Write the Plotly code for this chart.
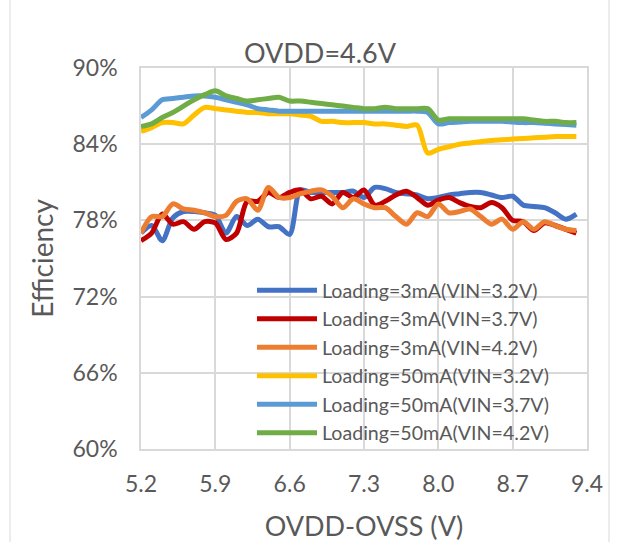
import plotly.graph_objects as go

# OVDD-OVSS sweep (V), 0.1 V steps
ovdd_ovss = [round(5.2 + 0.1 * i, 1) for i in range(42)]

# Efficiency (%) per loading / input-voltage condition
eff_3ma_32 = [77.0, 77.6, 76.4, 78.2, 78.7, 78.7, 78.6, 78.4, 77.0, 78.3,
              77.6, 78.1, 77.5, 77.5, 76.9, 80.4, 80.2, 80.2, 80.2, 80.2,
              80.3, 79.8, 80.6, 80.5, 80.2, 80.1, 80.0, 79.7, 79.8, 80.0,
              80.1, 80.2, 80.2, 80.0, 79.8, 79.9, 79.2, 79.1, 79.0, 78.6,
              78.1, 78.5]
eff_3ma_37 = [76.4, 77.0, 78.5, 77.7, 77.9, 77.3, 77.9, 77.8, 76.5, 77.0,
              79.5, 79.5, 80.2, 79.8, 80.2, 80.4, 79.7, 79.9, 79.3, 80.2,
              79.8, 80.4, 79.2, 79.5, 80.0, 80.3, 79.8, 79.2, 79.6, 79.8,
              79.4, 79.1, 79.0, 79.4, 79.0, 78.0, 77.9, 77.2, 77.8, 77.6,
              77.3, 77.0]
eff_3ma_42 = [77.0, 78.3, 78.3, 79.3, 78.9, 78.8, 78.6, 78.3, 78.4, 79.5,
              79.7, 78.8, 80.6, 79.8, 79.8, 80.1, 80.3, 80.4, 79.9, 79.0,
              79.7, 79.3, 79.0, 79.0, 78.3, 77.7, 78.6, 78.3, 79.3, 78.6,
              78.7, 78.9, 78.3, 77.7, 78.1, 77.3, 77.9, 77.3, 77.9, 77.6,
              77.3, 77.2]
eff_50ma_32 = [85.0, 85.3, 85.7, 85.7, 85.6, 86.3, 86.9, 86.8, 86.7, 86.6,
               86.5, 86.5, 86.4, 86.4, 86.4, 86.3, 86.2, 85.8, 85.8, 85.7,
               85.7, 85.7, 85.6, 85.6, 85.5, 85.4, 85.5, 83.3, 83.6, 83.8,
               84.0, 84.1, 84.2, 84.3, 84.35, 84.4, 84.45, 84.5, 84.55, 84.6,
               84.6, 84.6]
eff_50ma_37 = [86.1, 86.7, 87.5, 87.6, 87.7, 87.8, 87.8, 87.7, 87.5, 87.3,
               87.1, 86.8, 86.7, 86.6, 86.6, 86.6, 86.6, 86.6, 86.6, 86.6,
               86.6, 86.6, 86.6, 86.6, 86.6, 86.6, 86.6, 86.5, 85.6, 85.7,
               85.75, 85.8, 85.8, 85.8, 85.8, 85.75, 85.7, 85.7, 85.65, 85.6,
               85.55, 85.5]
eff_50ma_42 = [85.4, 85.6, 86.1, 86.5, 87.0, 87.5, 87.9, 88.2, 87.8, 87.6,
               87.4, 87.5, 87.6, 87.7, 87.4, 87.4, 87.3, 87.2, 87.1, 87.0,
               86.9, 86.8, 86.8, 86.9, 86.8, 86.8, 86.8, 86.8, 85.9, 86.0,
               86.0, 86.0, 86.0, 86.0, 86.0, 86.0, 86.0, 85.9, 85.8, 85.8,
               85.7, 85.7]

series_names = [
    "Loading=3mA(VIN=3.2V)",
    "Loading=3mA(VIN=3.7V)",
    "Loading=3mA(VIN=4.2V)",
    "Loading=50mA(VIN=3.2V)",
    "Loading=50mA(VIN=3.7V)",
    "Loading=50mA(VIN=4.2V)",
]
series_values = [eff_3ma_32, eff_3ma_37, eff_3ma_42,
                 eff_50ma_32, eff_50ma_37, eff_50ma_42]
series_colors = ["#4472C4", "#C00000", "#ED7D31",
                 "#FFC000", "#5B9BD5", "#70AD47"]

y_ticks = [60, 66, 72, 78, 84, 90]
y_tick_labels = [f"{v}%" for v in y_ticks]
x_ticks = [5.2, 5.9, 6.6, 7.3, 8.0, 8.7, 9.4]
x_tick_labels = [f"{v:.1f}" for v in x_ticks]

FONT = "Lato"
TEXT = "#595959"
GRID = "#d9d9d9"

fig = go.Figure()
for name, vals, col in zip(series_names, series_values, series_colors):
    fig.add_trace(go.Scatter(
        x=ovdd_ovss, y=vals, name=name, mode="lines",
        line=dict(color=col, width=5, shape="spline", smoothing=0.8),
    ))

L, R, T, B = 141, 35, 68, 93
W, H = 622, 542
pw, ph = W - L - R, H - T - B

def px_x(px):
    return (px - L) / pw

def px_y(py):
    return (H - B - py) / ph

# chart-area frame lines at the left and right edges
for fx in (10, 609):
    fig.add_shape(type="line", xref="paper", yref="paper",
                  x0=px_x(fx), x1=px_x(fx), y0=px_y(542), y1=px_y(0),
                  line=dict(color=GRID, width=1))

fig.update_layout(
    width=W, height=H,
    margin=dict(l=L, r=R, t=T, b=B, autoexpand=False),
    paper_bgcolor="white", plot_bgcolor="white",
    font=dict(family=FONT, color=TEXT),
    title=dict(text="OVDD=4.6V", font=dict(size=27, color=TEXT, family=FONT),
               xref="paper", x=px_x(320), xanchor="center",
               yref="container", y=1 - 54 / H, yanchor="middle"),
    showlegend=True,
    legend=dict(x=px_x(252), xanchor="left", y=px_y(271), yanchor="top",
                bgcolor="rgba(0,0,0,0)", font=dict(size=19.6, color=TEXT, family=FONT),
                itemwidth=60, traceorder="normal"),
    xaxis=dict(range=[5.2, 9.4], tickvals=x_ticks, ticktext=x_tick_labels,
               showgrid=True, gridcolor=GRID, gridwidth=1.5,
               showline=True, linecolor=GRID, linewidth=1.5, mirror=True,
               zeroline=False, ticks="", ticklabelstandoff=14, automargin=False,
               tickfont=dict(size=23, color=TEXT),
               title=dict(text="OVDD-OVSS (V)", font=dict(size=27, color=TEXT),
                          standoff=23)),
    yaxis=dict(range=[60, 90], tickvals=y_ticks, ticktext=y_tick_labels,
               showgrid=True, gridcolor=GRID, gridwidth=1.5,
               showline=True, linecolor=GRID, linewidth=1.5, mirror=True,
               zeroline=False, ticks="", ticklabelstandoff=17, automargin=False,
               tickfont=dict(size=23, color=TEXT),
               title=dict(text="Efficiency", font=dict(size=28, color=TEXT),
                          standoff=11)),
)

fig.write_html("out.html")
